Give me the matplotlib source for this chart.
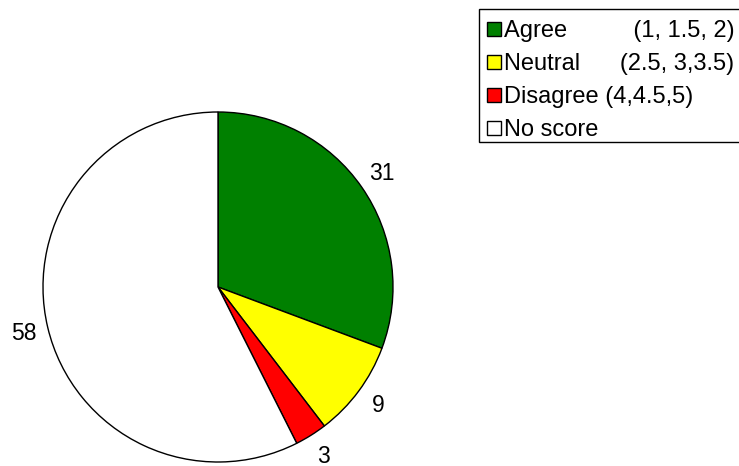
import matplotlib
matplotlib.use("Agg")
import matplotlib.pyplot as plt
from matplotlib.lines import Line2D
from matplotlib.patches import Rectangle

plt.rcParams['font.family'] = ['Liberation Sans', 'DejaVu Sans']

categories = ["Agree", "Neutral", "Disagree", "No score"]
legend_labels = ["Agree" + " " * 10 + "(1, 1.5, 2)",
                 "Neutral" + " " * 6 + "(2.5, 3,3.5)",
                 "Disagree (4,4.5,5)",
                 "No score"]
values = [31, 9, 3, 58]
colors = ["#008000", "#FFFF00", "#FF0000", "#FFFFFF"]

W, H = 739, 466
fig = plt.figure(figsize=(W / 100, H / 100), dpi=100)
cx, cy, r = 218, 287, 175
ax = fig.add_axes([(cx - r) / W, (H - cy - r) / H, 2 * r / W, 2 * r / H])
total = sum(values)
ax.pie(values, colors=colors, startangle=90, counterclock=False,
       wedgeprops=dict(edgecolor="black", linewidth=1),
       autopct=lambda p: f"{round(p * total / 100)}", pctdistance=1.14,
       textprops=dict(fontsize=16.5, color="black"))
ax.set_xlim(-1, 1)
ax.set_ylim(-1, 1)
ax.set_aspect("equal")
for t in ax.texts:
    t.set_clip_on(False)

# legend frame (extends past the right edge, as in the reference)
frame = Rectangle((479 / W, 1 - 142 / H), 300 / W, 133 / H,
                  transform=fig.transFigure, facecolor="white",
                  edgecolor="black", linewidth=1, zorder=1)
fig.patches.append(frame)

handles = [Line2D([], [], linestyle="none", marker="s", markersize=10,
                  markerfacecolor=c, markeredgecolor="black", markeredgewidth=1)
           for c in colors]
leg = fig.legend(handles, legend_labels, loc="upper left",
                 bbox_to_anchor=(479 / W, 1 - 13 / H), fontsize=17,
                 frameon=False, handlelength=0.63, handletextpad=0.13,
                 labelspacing=0.466, borderpad=0.3, borderaxespad=0)
leg.set_zorder(2)
fig.savefig("out.png", dpi=100)
